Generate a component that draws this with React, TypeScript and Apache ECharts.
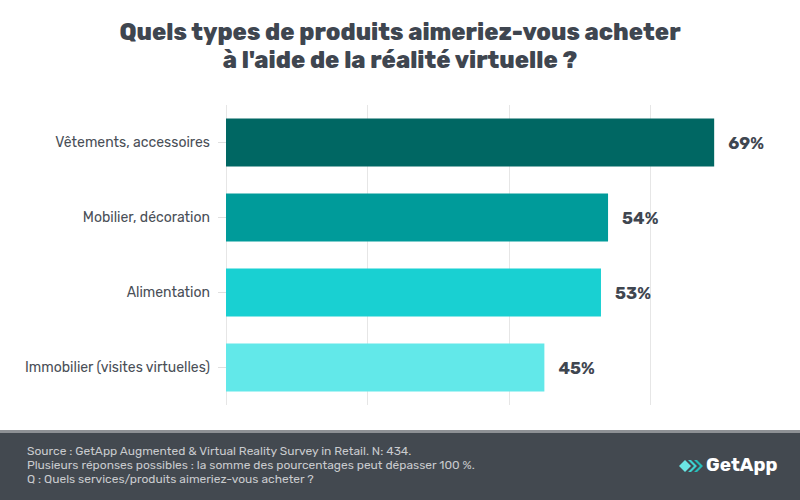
import React, { useEffect, useRef } from "react";
import * as echarts from "echarts";

const categories = [
  "Vêtements, accessoires",
  "Mobilier, décoration",
  "Alimentation",
  "Immobilier (visites virtuelles)",
];
const values = [69, 54, 53, 45];
const barColors = ["#006763", "#009b9a", "#19d0d2", "#62e8e9"];
const titleLines = [
  "Quels types de produits aimeriez-vous acheter",
  "à l'aide de la réalité virtuelle ?",
];
const footerLines = [
  "Source : GetApp Augmented & Virtual Reality Survey in Retail. N: 434.",
  "Plusieurs réponses possibles : la somme des pourcentages peut dépasser 100 %.",
  "Q : Quels services/produits aimeriez-vous acheter ?",
];

export default function App() {
  const ref = useRef<HTMLDivElement>(null);
  useEffect(() => {
    if (!ref.current) return;
    const chart = echarts.init(ref.current, null, { renderer: "svg" });
    const font = "Rubik, 'Open Sans', 'Noto Sans', sans-serif";
    chart.setOption({
      animation: false,
      backgroundColor: "#ffffff",
      title: {
        text: titleLines.join("\n"),
        left: "center",
        top: 13,
        textStyle: {
          fontFamily: font,
          fontSize: 23.5,
          fontWeight: 800,
          color: "#3f4650",
          lineHeight: 28,
        },
      },
      grid: { left: 226, top: 105, width: 566, height: 300, containLabel: false },
      xAxis: {
        type: "value",
        min: 0,
        max: 80,
        interval: 20,
        axisLabel: { show: false },
        axisLine: { show: false },
        axisTick: { show: false },
        splitLine: {
          show: true,
          lineStyle: {
            color: ["#e6e6e6", "#e6e6e6", "#e6e6e6", "#e6e6e6", "rgba(0,0,0,0)"],
            width: 1,
          },
        },
      },
      yAxis: {
        type: "category",
        inverse: true,
        data: categories,
        axisLine: { show: false },
        axisTick: {
          show: true,
          alignWithLabel: true,
          length: 8,
          lineStyle: { color: "#e0e0e0" },
        },
        axisLabel: {
          margin: 16,
          fontFamily: font,
          fontSize: 14,
          color: "#4a4f57",
        },
      },
      series: [
        {
          type: "bar",
          data: values.map((v, i) => ({ value: v, itemStyle: { color: barColors[i] } })),
          barCategoryGap: "36%",
          label: {
            show: true,
            position: "right",
            distance: 14,
            formatter: "{c}%",
            fontFamily: font,
            fontSize: 17,
            fontWeight: "bold",
            color: "#3f4650",
          },
        },
      ],
      graphic: [
        { type: "rect", left: 0, top: 430, shape: { width: 800, height: 70 }, style: { fill: "#434950" }, z: 10 },
        { type: "rect", left: 0, top: 430, shape: { width: 800, height: 3 }, style: { fill: "#8e9195" }, z: 11 },
        ...footerLines.map((t, i) => ({
          type: "text",
          left: 27,
          top: 445 + i * 14,
          style: { text: t, fill: "#c9cbce", fontSize: 12, fontFamily: font },
          z: 12,
        })),
        {
          type: "polygon",
          shape: { points: [[679, 466], [685, 460], [691, 466], [685, 472]] },
          style: { fill: "#6be6e4" },
          z: 12,
        },
        {
          type: "polygon",
          shape: { points: [[688, 460], [691, 460], [697, 466], [691, 472], [688, 472], [694, 466]] },
          style: { fill: "#3fd3d0" },
          z: 12,
        },
        {
          type: "polygon",
          shape: { points: [[694, 460], [697, 460], [703, 466], [697, 472], [694, 472], [700, 466]] },
          style: { fill: "#25bdb9" },
          z: 12,
        },
        {
          type: "text",
          left: 706,
          top: 455,
          style: { text: "GetApp", fill: "#ffffff", fontSize: 19, fontWeight: "bold", fontFamily: font },
          z: 12,
        },
      ],
    });
    return () => chart.dispose();
  }, []);
  return <div ref={ref} style={{ width: 800, height: 500, position: "absolute", left: 0, top: 0 }} />;
}
